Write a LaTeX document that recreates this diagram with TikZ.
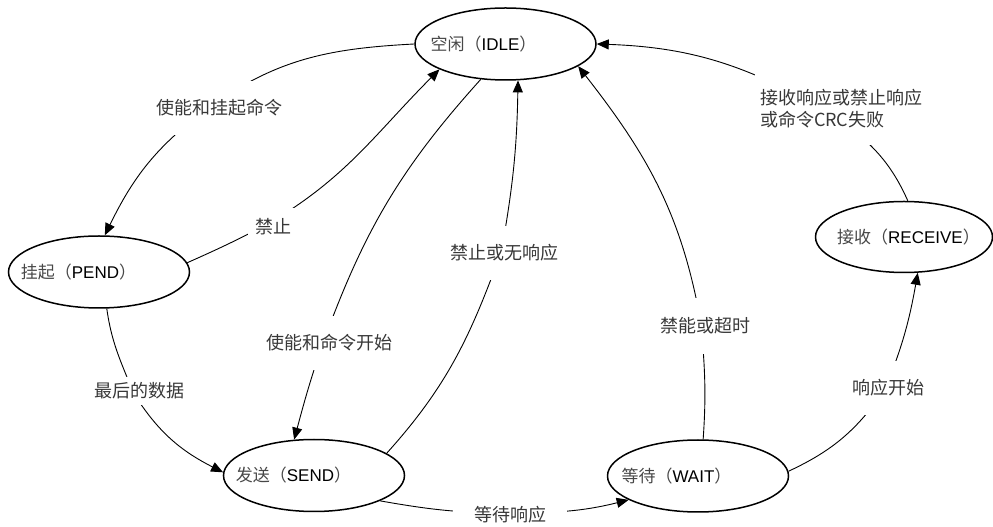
\documentclass[tikz,border=0pt]{standalone}
\usepackage{fontspec}
\setmainfont{Liberation Sans}
\newfontfamily\cjk{Noto Sans CJK SC}
\usetikzlibrary{shapes.geometric,arrows.meta}
\pgfdeclarelayer{bg}
\pgfsetlayers{bg,main}
\newcommand\nodetxt[2]{\makebox[0pt]{\kern#1\relax #2}}
\newcommand\zh[1]{{\cjk\color{black!72}#1}}
\begin{document}
\begin{tikzpicture}[x=1pt,y=1pt,
  state/.style={ellipse,draw,line width=1.5pt,minimum width=181pt,minimum height=72pt,inner sep=0pt,font=\fontsize{17}{20}\selectfont},
  lbl/.style={fill=white,inner xsep=5pt,inner ysep=#1,font=\fontsize{18}{22}\selectfont\cjk,text=black!78},
  lbl/.default=18pt,
  segl/.style={line width=0.9pt},
  conn/.style={line width=0.9pt,-{Triangle[length=12pt,width=10pt]}}]
\useasboundingbox (0,0) rectangle (993,527);
% states
\node[state] (IDLE) at (505.5,483) {\nodetxt{-44pt}{\zh{空闲（}IDLE\zh{）}}};
\node[state] (PEND) at (99,255) {\nodetxt{-41pt}{\zh{挂起（}PEND\zh{）}}};
\node[state] (SEND) at (314,51.5) {\nodetxt{-41pt}{\zh{发送（}SEND\zh{）}}};
\node[state] (WAIT) at (698,51) {\nodetxt{-43pt}{\zh{等待（}WAIT\zh{）}}};
\node[state,minimum width=177pt,minimum height=71pt] (RECV) at (904,290) {\nodetxt{9pt}{\zh{接收（}RECEIVE\zh{）}}};
% labels
\node[lbl=19pt] (L1) at (219,419) {使能和挂起命令};
\node[lbl=10pt,inner xsep=8pt] (L2) at (273.5,300.5) {禁止};
\node[lbl=19pt] (L3) at (329,184) {使能和命令开始};
\node[lbl=19pt] (L4) at (504,274) {禁止或无响应};
\node[lbl=20pt] (L5) at (705,201) {禁能或超时};
\node[lbl=19pt] (L6) at (888,139) {响应开始};
\node[lbl=17pt,align=left] (L7) at (841,418) {接收响应或禁止响应\\或命令CRC失败};
\node[lbl=8pt,inner xsep=21pt] (L8) at (510,12) {等待响应};
\node[lbl=6pt] (L9) at (139,136) {最后的数据};
% gap points
\coordinate (g1) at (208.5,419);
\coordinate (g2) at (267.5,303);
\coordinate (g3) at (322.5,182.5);
\coordinate (g4) at (501.5,276);
\coordinate (g5) at (701,203.5);
\coordinate (g6) at (885,137.5);
\coordinate (g7) at (830,414);
\coordinate (g8) at (509.5,14);
\coordinate (g9) at (133.5,134);
\begin{pgfonlayer}{bg}
\draw[segl] (IDLE.180) to[out=183,in=36] (g1);
\draw[conn] (g1) to[out=216,in=64] (PEND.81);
\draw[segl] (PEND.6) to[out=24,in=208] (g2);
\draw[conn] (g2) to[out=30,in=225] (IDLE.201);
\draw[segl] (IDLE.235) to[out=228,in=70] (g3);
\draw[conn] (g3) to[out=251,in=75] (SEND.119);
\draw[segl] (SEND.17) to[out=48,in=250] (g4);
\draw[conn] (g4) to[out=80,in=269] (IDLE.289);
\draw[segl] (WAIT.82) to[out=86,in=275] (g5);
\draw[conn] (g5) to[out=100,in=308] (IDLE.343);
\draw[segl] (WAIT.3) to[out=25,in=235] (g6);
\draw[conn] (g6) to[out=68,in=260] (RECV.291);
\draw[segl] (RECV.84) to[out=114,in=325] (g7);
\draw[conn] (g7) to[out=150,in=358] (IDLE.0);
\draw[segl] (SEND.339) to[out=-10,in=180] (g8);
\draw[conn] (g8) to[out=0,in=194] (WAIT.199);
\draw[segl] (PEND.282) to[out=278,in=112] (g9);
\draw[conn] (g9) to[out=302,in=153] (SEND.178);
\end{pgfonlayer}
\end{tikzpicture}
\end{document}
